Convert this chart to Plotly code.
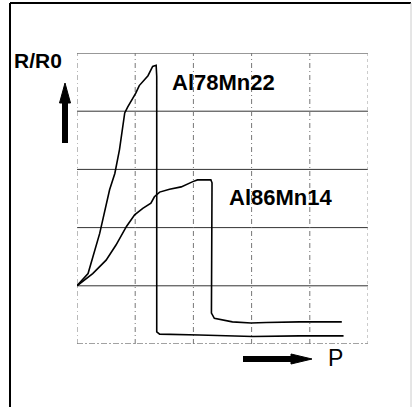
import plotly.graph_objects as go

# Data (x: P in grid units, y: R/R0 in grid units)
al78_x = [0.0, 0.19, 0.39, 0.56, 0.65, 0.73, 0.82, 0.87, 1.01, 1.07, 1.22, 1.30, 1.36, 1.37, 1.37, 1.42, 2.10, 3.02, 3.82, 4.58]
al78_y = [1.0, 1.21, 1.90, 2.65, 2.93, 3.34, 3.97, 4.07, 4.31, 4.44, 4.61, 4.77, 4.79, 4.60, 0.21, 0.17, 0.155, 0.13, 0.14, 0.14]

al86_x = [0.0, 0.27, 0.50, 0.67, 0.85, 0.99, 1.13, 1.27, 1.33, 1.42, 1.59, 1.79, 1.99, 2.07, 2.30, 2.32, 2.31, 2.36, 2.67, 2.99, 3.25, 3.82, 4.55]
al86_y = [1.0, 1.21, 1.44, 1.70, 2.02, 2.22, 2.33, 2.42, 2.53, 2.61, 2.66, 2.70, 2.79, 2.82, 2.82, 2.77, 0.53, 0.44, 0.38, 0.36, 0.37, 0.38, 0.38]

series_names = ["Al78Mn22", "Al86Mn14"]
label_pos_x = [1.59, 2.58]
label_pos_y = [4.5, 2.52]
h_grid = [1, 2, 3, 4, 5]
v_grid = [0, 1, 2, 3, 4]

W, H = 412, 407
L, R, T, B = 77, 368, 53, 344

def px(x):
    return (x - L) / (R - L)

def py(y):
    return (B - y) / (B - T)

fig = go.Figure()
for xs, ys, name in [(al78_x, al78_y, series_names[0]), (al86_x, al86_y, series_names[1])]:
    fig.add_trace(go.Scatter(x=xs, y=ys, mode="lines", name=name,
                             line=dict(color="black", width=1.6), showlegend=False,
                             hoverinfo="skip"))

shapes = []
# horizontal grid (solid)
for g in h_grid:
    shapes.append(dict(type="line", xref="x", yref="y", x0=0, x1=5, y0=g, y1=g,
                       line=dict(color="#333333", width=1), layer="below"))
# bottom boundary dashed
shapes.append(dict(type="line", xref="x", yref="y", x0=0, x1=5, y0=0, y1=0,
                   line=dict(color="#444444", width=1, dash="6px,2px,2px,2px"), layer="below"))
# vertical grid dash-dot
for g in v_grid:
    shapes.append(dict(type="line", xref="x", yref="y", x0=g, x1=g, y0=0, y1=5,
                       line=dict(color="#777777", width=1, dash="5px,3px,1px,3px"), layer="below"))
shapes.append(dict(type="line", xref="x", yref="y", x0=5, x1=5, y0=0, y1=5,
                   line=dict(color="#999999", width=1, dash="dot"), layer="below"))

# outer frame
shapes.append(dict(type="line", xref="paper", yref="paper", x0=px(10), x1=px(10), y0=py(3), y1=py(407),
                   line=dict(color="black", width=2)))
shapes.append(dict(type="line", xref="paper", yref="paper", x0=px(10), x1=px(411), y0=py(3), y1=py(3),
                   line=dict(color="black", width=2)))
shapes.append(dict(type="line", xref="paper", yref="paper", x0=px(411), x1=px(411), y0=py(3), y1=py(407),
                   line=dict(color="#cccccc", width=1)))

# up arrow
shapes.append(dict(type="line", xref="paper", yref="paper", x0=px(65), x1=px(65), y0=py(143), y1=py(100),
                   line=dict(color="black", width=6)))
shapes.append(dict(type="path", xref="paper", yref="paper",
                   path=f"M {px(59.5)} {py(103)} L {px(70.5)} {py(103)} L {px(65)} {py(83)} Z",
                   fillcolor="black", line=dict(color="black", width=1)))
# right arrow
shapes.append(dict(type="line", xref="paper", yref="paper", x0=px(243), x1=px(294), y0=py(359), y1=py(359),
                   line=dict(color="black", width=6)))
shapes.append(dict(type="path", xref="paper", yref="paper",
                   path=f"M {px(291)} {py(354)} L {px(291)} {py(364)} L {px(312)} {py(359)} Z",
                   fillcolor="black", line=dict(color="black", width=1)))

annotations = []
for name, lx, ly in zip(series_names, label_pos_x, label_pos_y):
    annotations.append(dict(x=lx, y=ly, xref="x", yref="y", text=f"<b>{name}</b>", showarrow=False,
                            xanchor="left", yanchor="middle",
                            font=dict(family="Liberation Sans, Arial", size=22, color="black")))
annotations.append(dict(x=px(12), y=py(60), xref="paper", yref="paper", text="<b>R/R0</b>",
                        showarrow=False, xanchor="left", yanchor="middle",
                        font=dict(family="Liberation Sans, Arial", size=21, color="black")))
annotations.append(dict(x=px(335), y=py(358), xref="paper", yref="paper", text="P",
                        showarrow=False, xanchor="center", yanchor="middle",
                        font=dict(family="Liberation Sans, Arial", size=23, color="black")))

fig.update_layout(
    width=W, height=H,
    margin=dict(l=L, r=W - R, t=T, b=H - B, pad=0),
    paper_bgcolor="white", plot_bgcolor="white",
    xaxis=dict(range=[0, 5], showgrid=False, zeroline=False, showticklabels=False, ticks="", fixedrange=True),
    yaxis=dict(range=[0, 5], showgrid=False, zeroline=False, showticklabels=False, ticks="", fixedrange=True),
    shapes=shapes, annotations=annotations,
)

fig.write_html("out.html", config={"displayModeBar": False})
